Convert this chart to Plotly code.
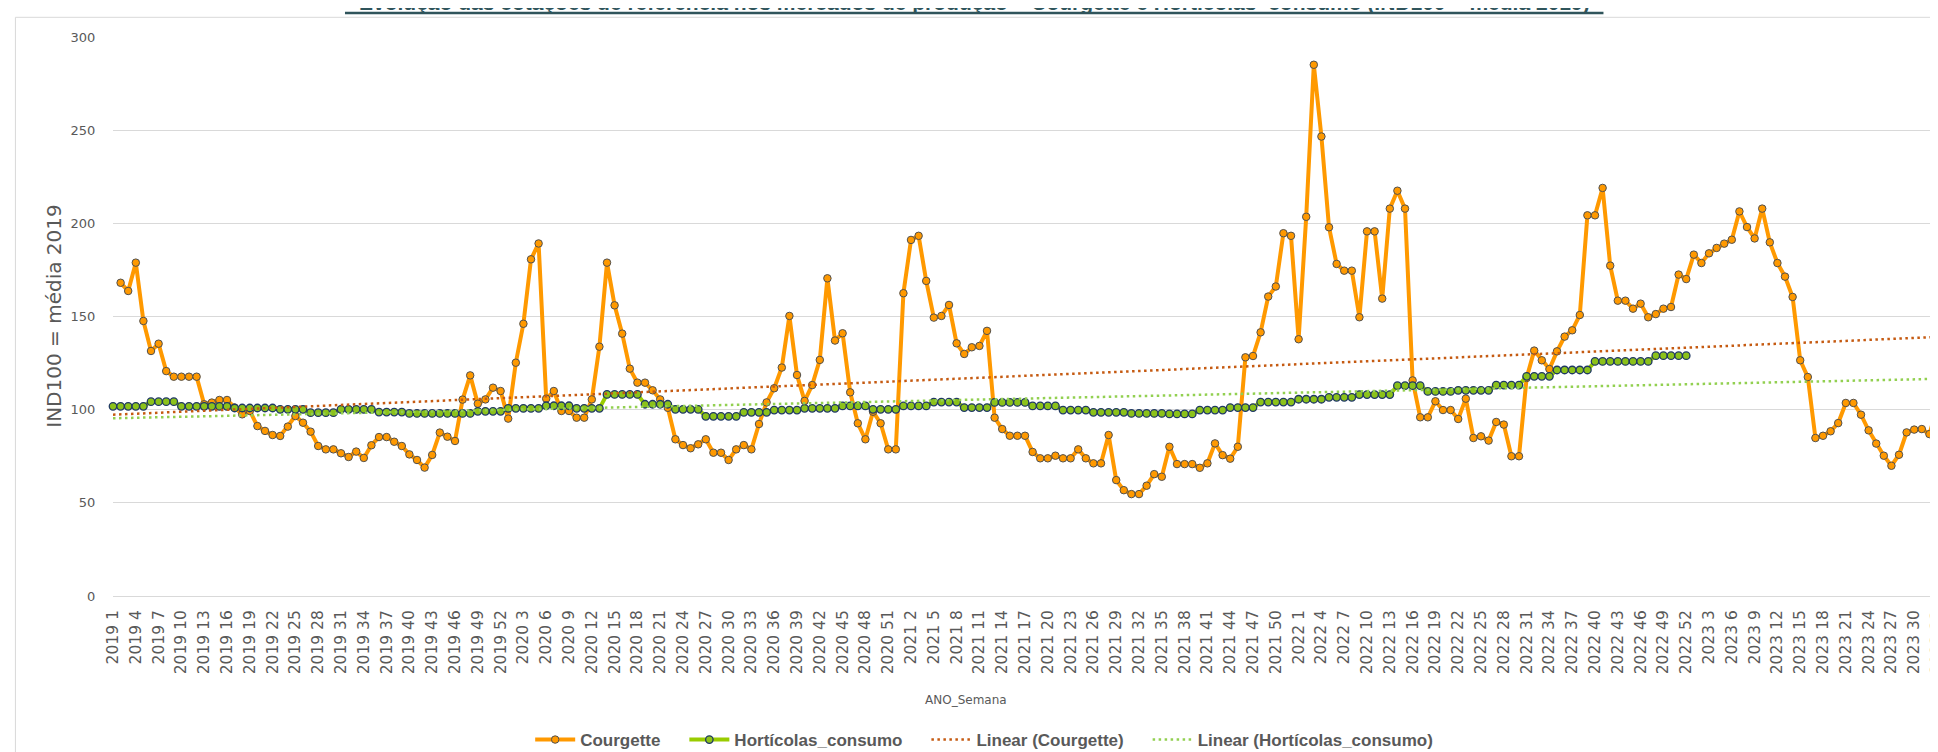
import numpy as np
import plotly.graph_objects as go

# ---------------- data ----------------
YEARS = [2019, 2020, 2021, 2022, 2023]
WEEKS_PER_YEAR = 52
N_POINTS = 241  # 2019 1 ... 2023 33

categories = [f"{y} {w}" for y in YEARS for w in range(1, WEEKS_PER_YEAR + 1)][:N_POINTS]
tick_labels = categories[::3]

courgette = [None,
    168.1, 163.7, 178.9, 147.6, 131.5, 135.4, 120.7, 117.7, 117.7, 117.7,
    117.7, 102.9, 103.8, 105.2, 105.2, 101.1, 97.5, 99.3, 91.2, 88.6,
    86.4, 85.9, 90.9, 96.6, 93.0, 88.2, 80.5, 78.7, 78.7, 76.6,
    74.6, 77.5, 74.1, 80.9, 85.3, 85.3, 82.8, 80.5, 76.0, 73.0,
    68.9, 75.7, 87.7, 85.5, 83.2, 105.4, 118.4, 103.2, 105.5, 111.8,
    110.0, 95.2, 125.2, 146.1, 180.7, 189.2, 105.9, 110.0, 99.3, 99.3,
    95.7, 95.7, 105.5, 133.8, 178.9, 156.0, 140.8, 122.0, 114.5, 114.5,
    110.4, 105.5, 101.0, 84.1, 81.0, 79.3, 81.4, 84.1, 76.9, 76.9,
    73.0, 78.7, 81.0, 78.7, 92.3, 103.9, 111.5, 122.6, 150.3, 118.6,
    104.7, 113.2, 126.7, 170.5, 137.1, 141.0, 109.3, 92.7, 84.1, 98.9,
    92.7, 78.7, 78.7, 162.5, 191.1, 193.3, 169.1, 149.4, 150.3, 156.2,
    135.6, 129.9, 133.5, 134.2, 142.3, 95.7, 89.6, 86.0, 86.0, 86.0,
    77.3, 73.9, 73.9, 75.3, 73.9, 73.9, 78.7, 73.9, 71.2, 71.2,
    86.4, 62.2, 56.8, 54.7, 54.7, 59.2, 65.4, 64.0, 80.1, 70.8,
    70.8, 70.8, 68.8, 71.2, 81.9, 75.6, 73.7, 80.1, 128.1, 128.8,
    141.5, 160.7, 166.1, 194.7, 193.3, 137.8, 203.5, 285.1, 246.6, 197.9,
    178.2, 174.6, 174.6, 149.6, 195.7, 195.7, 159.6, 207.9, 217.5, 207.9,
    115.7, 95.9, 95.9, 104.5, 99.8, 99.8, 95.0, 105.9, 84.8, 85.7,
    83.4, 93.4, 92.0, 75.0, 75.0, 117.0, 131.7, 126.5, 121.8, 131.3,
    139.2, 142.6, 150.8, 204.3, 204.3, 219.0, 177.3, 158.5, 158.5, 154.2,
    156.9, 149.6, 151.3, 154.2, 155.1, 172.5, 170.1, 183.2, 178.7, 183.9,
    186.8, 189.1, 191.2, 206.4, 198.0, 191.9, 207.9, 189.8, 178.7, 171.4,
    160.5, 126.5, 117.5, 84.8, 86.0, 88.4, 92.8, 103.6, 103.6, 97.3,
    88.9, 81.8, 75.3, 69.9, 75.8, 87.8, 89.3, 89.6, 86.9, 100.7,
]

horticolas = [
    101.8, 101.8, 101.8, 101.8, 101.8, 104.3, 104.3, 104.3, 104.3, 101.8,
    101.8, 101.8, 101.8, 101.8, 101.8, 101.8, 100.9, 100.9, 100.9, 100.9,
    100.9, 100.9, 100.2, 100.2, 100.2, 100.2, 98.4, 98.4, 98.4, 98.4,
    100.2, 100.2, 100.2, 100.2, 100.2, 98.7, 98.7, 98.7, 98.7, 98.0,
    98.0, 98.0, 98.0, 98.0, 98.0, 98.0, 98.0, 98.0, 99.1, 99.1,
    99.1, 99.1, 100.7, 100.7, 100.7, 100.7, 100.7, 102.1, 102.1, 102.1,
    102.1, 100.7, 100.7, 100.7, 100.7, 108.2, 108.2, 108.2, 108.2, 108.2,
    102.9, 102.9, 102.9, 102.9, 100.2, 100.2, 100.2, 100.2, 96.4, 96.4,
    96.4, 96.4, 96.4, 98.6, 98.6, 98.6, 98.6, 99.8, 99.8, 99.8,
    99.8, 100.7, 100.7, 100.7, 100.7, 100.7, 102.0, 102.0, 102.0, 102.0,
    100.2, 100.2, 100.2, 100.2, 102.0, 102.0, 102.0, 102.0, 104.1, 104.1,
    104.1, 104.1, 101.1, 101.1, 101.1, 101.1, 103.9, 103.9, 103.9, 103.9,
    103.9, 102.0, 102.0, 102.0, 102.0, 99.8, 99.8, 99.8, 99.8, 98.6,
    98.6, 98.6, 98.6, 98.6, 98.0, 98.0, 98.0, 98.0, 98.0, 97.7,
    97.7, 97.7, 97.7, 99.8, 99.8, 99.8, 99.8, 101.1, 101.1, 101.1,
    101.1, 104.1, 104.1, 104.1, 104.1, 104.1, 105.6, 105.6, 105.6, 105.6,
    106.6, 106.6, 106.6, 106.6, 108.1, 108.1, 108.1, 108.1, 108.1, 112.9,
    112.9, 112.9, 112.9, 109.8, 109.8, 109.8, 109.8, 110.4, 110.4, 110.4,
    110.4, 110.4, 113.2, 113.2, 113.2, 113.2, 117.9, 117.9, 117.9, 117.9,
    121.3, 121.3, 121.3, 121.3, 121.3, 125.9, 125.9, 125.9, 125.9, 125.9,
    125.9, 125.9, 125.9, 129.0, 129.0, 129.0, 129.0, 129.0,
]

y_ticks = [0, 50, 100, 150, 200, 250, 300]

series_names = ["Courgette", "Hortícolas_consumo",
                "Linear (Courgette)", "Linear (Hortícolas_consumo)"]

# ---------------- linear trends (least squares on category index) ----------------
def linear_trend(values):
    idx = np.array([i for i, v in enumerate(values) if v is not None], dtype=float)
    vals = np.array([v for v in values if v is not None], dtype=float)
    slope, intercept = np.polyfit(idx, vals, 1)
    return [intercept, intercept + slope * (N_POINTS - 1)]

trend_x = [categories[0], categories[-1]]
trend_c = linear_trend(courgette)
trend_h = linear_trend(horticolas)

# ---------------- layout geometry ----------------
W, H = 1938, 752
ML, MR, MT, MB = 105, 0, 29, 164
PW = W - ML - MR
PH = H - MT - MB

def px_to_paper_x(px):
    return (px - ML) / PW

def px_to_paper_y(py):
    return (H - MB - py) / PH

GRAY = "#595959"
ORANGE = "#FF9900"
GREEN = "#99CC00"
GREEN_MK = "#8CC21A"
NAVY = "#1F3864"
PAD = "\u00a0" * 4  # spacing after legend entries
AXIS_FONT = "DejaVu Sans, Verdana, sans-serif"

fig = go.Figure()

fig.add_trace(go.Scatter(
    x=categories, y=courgette, name=series_names[0] + PAD, mode="lines+markers",
    line=dict(color=ORANGE, width=4),
    marker=dict(symbol="circle", size=7.5, color=ORANGE, line=dict(color="#505050", width=1)),
    cliponaxis=False,
))
fig.add_trace(go.Scatter(
    x=categories[:len(horticolas)], y=horticolas, name=series_names[1] + PAD,
    mode="lines+markers",
    line=dict(color=GREEN, width=4),
    marker=dict(symbol="circle", size=7.5, color=GREEN_MK, line=dict(color=NAVY, width=1.3)),
    cliponaxis=False,
))
fig.add_trace(go.Scatter(
    x=trend_x, y=trend_c, name=series_names[2] + PAD, mode="lines",
    line=dict(color="#C55A11", width=2.5, dash="2.5px,3.5px"),
))
fig.add_trace(go.Scatter(
    x=trend_x, y=trend_h, name=series_names[3], mode="lines",
    line=dict(color="#92D050", width=2.5, dash="2.5px,3.5px"),
))

title_text = ("Evolução das cotações de referência nos mercados de produção – "
              "Courgette e Hortícolas_consumo (IND100 = média 2019)")

fig.update_layout(
    width=W, height=H,
    margin=dict(l=ML, r=MR, t=MT, b=MB, pad=0),
    paper_bgcolor="white", plot_bgcolor="white",
    font=dict(family="Liberation Sans, Arial, sans-serif", color=GRAY),
    showlegend=True,
    legend=dict(
        orientation="h", x=px_to_paper_x(980), xanchor="center",
        y=px_to_paper_y(732), yanchor="middle",
        font=dict(size=17, color=GRAY, weight="bold"),
        itemwidth=40, bgcolor="rgba(0,0,0,0)",
    ),
    xaxis=dict(
        type="category", range=[0, N_POINTS - 1 + 0.13],
        tickmode="array", tickvals=tick_labels, ticktext=tick_labels,
        tickangle=-90, tickfont=dict(size=15.5, color=GRAY, family=AXIS_FONT),
        showgrid=False, zeroline=False, showline=False,
        ticks="outside", ticklen=7, tickcolor="rgba(0,0,0,0)",
    ),
    yaxis=dict(
        range=[0, 300], tickmode="array", tickvals=y_ticks,
        tickfont=dict(size=13, color=GRAY, family=AXIS_FONT),
        showgrid=True, gridcolor="#D9D9D9", gridwidth=1,
        zeroline=True, zerolinecolor="#D9D9D9", zerolinewidth=1,
        showline=False, ticks="outside", ticklen=14, tickcolor="rgba(0,0,0,0)",
    ),
    annotations=[
        dict(text=f"<b>{title_text}</b>", xref="paper", yref="paper",
             x=px_to_paper_x(970), y=px_to_paper_y(8), xanchor="center", yanchor="bottom",
             showarrow=False, font=dict(size=21, color="#2F545B")),
        dict(text="IND100 = média 2019", xref="paper", yref="paper",
             x=px_to_paper_x(45), y=0.5, xanchor="center", yanchor="middle",
             textangle=-90, showarrow=False,
             font=dict(size=20, color=GRAY, family=AXIS_FONT)),
        dict(text="ANO_Semana", xref="paper", yref="paper",
             x=px_to_paper_x(962), y=px_to_paper_y(692), xanchor="center", yanchor="middle",
             showarrow=False, font=dict(size=12, color=GRAY, family=AXIS_FONT)),
    ],
    shapes=[
        dict(type="line", xref="paper", yref="paper",
             x0=px_to_paper_x(338), x1=px_to_paper_x(1602),
             y0=px_to_paper_y(5), y1=px_to_paper_y(5),
             line=dict(color="#2F545B", width=2.5)),
        dict(type="rect", xref="paper", yref="paper",
             x0=px_to_paper_x(7), x1=px_to_paper_x(1960),
             y0=px_to_paper_y(800), y1=px_to_paper_y(9.3),
             line=dict(color="#D9D9D9", width=1), fillcolor="rgba(0,0,0,0)", layer="below"),
    ],
)

fig.write_html("out.html")
